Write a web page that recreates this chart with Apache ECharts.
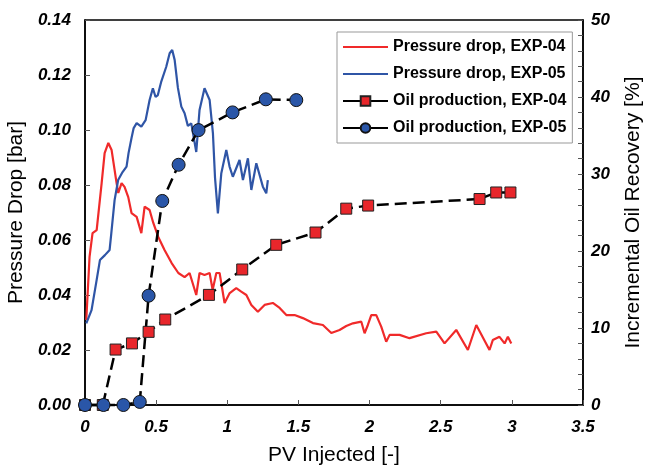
<!DOCTYPE html>
<html>
<head>
<meta charset="utf-8">
<script src="https://cdn.jsdelivr.net/npm/echarts@6/dist/echarts.min.js"></script>
<style>
html,body{margin:0;padding:0;background:#fff;}
#chart{width:651px;height:468px;}
</style>
</head>
<body>
<div id="chart"></div>
<script>
// PV injected vs pressure drop, EXP-04
const pdExp04 = [
[0.009,0.0309],[0.032,0.0539],[0.053,0.0625],[0.082,0.0636],[0.117,0.0807],[0.138,0.0916],[0.164,0.0953],
[0.187,0.0927],[0.208,0.0855],[0.222,0.0807],[0.234,0.0771],[0.257,0.0807],[0.278,0.0793],[0.304,0.0756],
[0.327,0.0698],[0.363,0.0684],[0.396,0.0625],[0.419,0.0721],[0.454,0.0709],[0.480,0.0662],[0.515,0.0611],
[0.559,0.0564],[0.609,0.0516],[0.656,0.0480],[0.700,0.0465],[0.735,0.0480],[0.782,0.0400],[0.805,0.0480],
[0.840,0.0473],[0.876,0.0480],[0.897,0.0418],[0.923,0.0480],[0.946,0.0480],[0.981,0.0371],[1.017,0.0407],
[1.063,0.0425],[1.098,0.0412],[1.134,0.0400],[1.169,0.0364],[1.215,0.0339],[1.262,0.0364],[1.320,0.0371],
[1.368,0.0353],[1.415,0.0327],[1.473,0.0327],[1.531,0.0316],[1.602,0.0298],[1.672,0.0291],[1.731,0.0262],
[1.789,0.0273],[1.836,0.0287],[1.883,0.0297],[1.942,0.0303],[1.965,0.0261],[1.988,0.0291],[2.012,0.0327],
[2.047,0.0327],[2.082,0.0285],[2.117,0.0230],[2.141,0.0255],[2.211,0.0255],[2.281,0.0243],[2.398,0.0261],
[2.469,0.0267],[2.527,0.0224],[2.609,0.0273],[2.691,0.0200],[2.750,0.0291],[2.843,0.0200],[2.866,0.0236],
[2.913,0.0248],[2.949,0.0224],[2.972,0.0248],[2.996,0.0224]
];
// PV injected vs pressure drop, EXP-05
const pdExp05 = [
[0.009,0.0297],[0.046,0.0345],[0.082,0.0455],[0.105,0.0527],[0.140,0.0545],[0.173,0.0564],[0.185,0.0625],
[0.208,0.0745],[0.233,0.0818],[0.264,0.0847],[0.292,0.0867],[0.306,0.0916],[0.327,0.0971],[0.342,0.1007],
[0.363,0.1025],[0.396,0.1012],[0.426,0.1036],[0.454,0.1109],[0.477,0.1152],[0.496,0.1120],[0.512,0.1127],
[0.536,0.1176],[0.571,0.1230],[0.595,0.1279],[0.613,0.1291],[0.630,0.1255],[0.653,0.1153],[0.677,0.1085],
[0.700,0.1061],[0.723,0.1015],[0.747,0.1024],[0.782,0.0920],[0.805,0.1073],[0.840,0.1152],[0.876,0.1109],
[0.899,0.0989],[0.914,0.0825],[0.934,0.0697],[0.958,0.0843],[0.993,0.0927],[1.016,0.0867],[1.039,0.0830],
[1.086,0.0891],[1.110,0.0818],[1.145,0.0897],[1.169,0.0782],[1.204,0.0879],[1.250,0.0794],[1.274,0.0770],
[1.285,0.0818]
];
// PV injected vs incremental oil recovery [%], EXP-04
const oilExp04 = [
[0,0],[0.125,0],[0.215,7.2],[0.33,8.0],[0.447,9.5],[0.564,11.1],[0.871,14.3],[1.105,17.6],[1.344,20.8],
[1.62,22.4],[1.836,25.5],[1.99,25.9],[2.773,26.75],[2.89,27.6],[2.99,27.6]
];
// PV injected vs incremental oil recovery [%], EXP-05
const oilExp05 = [
[0,0],[0.13,0],[0.27,0],[0.385,0.4],[0.447,14.2],[0.543,26.5],[0.658,31.2],[0.798,35.7],[1.037,38.0],
[1.271,39.7],[1.485,39.6]
];
const seriesNames = ['Pressure drop, EXP-04','Pressure drop, EXP-05','Oil production, EXP-04','Oil production, EXP-05'];

const tickFont = {fontFamily:'Liberation Sans, Arial, sans-serif', fontWeight:'bold', fontStyle:'italic', fontSize:17, color:'#000'};
const nameFont = {fontFamily:'Liberation Sans, Arial, sans-serif', fontSize:21, color:'#000'};
const lineIcon = 'path://M0,0H45V2H0Z';

const chart = echarts.init(document.getElementById('chart'), null, {renderer:'canvas'});
chart.setOption({
  animation:false,
  backgroundColor:'#fff',
  grid:{left:85, right:68, top:20, bottom:63, outerBoundsMode:'none', containLabel:false,
        show:true, borderColor:'#000', borderWidth:1.5, backgroundColor:'transparent'},
  legend:{
    orient:'vertical', left:337, top:32,
    padding:[6,6,6,5], itemWidth:45, itemHeight:12, itemGap:9,
    backgroundColor:'#fff', borderColor:'#999', borderWidth:1, borderRadius:0,
    textStyle:{fontFamily:'Liberation Sans, Arial, sans-serif', fontWeight:'bold', fontSize:16, color:'#000', lineHeight:18},
    data:[
      {name:seriesNames[0], icon:lineIcon, itemStyle:{color:'#f02a2a'}},
      {name:seriesNames[1], icon:lineIcon, itemStyle:{color:'#2f55a6'}},
      {name:seriesNames[2], lineStyle:{type:'solid', width:2}},
      {name:seriesNames[3], lineStyle:{type:'solid', width:2}}
    ]
  },
  xAxis:{
    type:'value', min:0, max:3.5, interval:0.5,
    name:'PV Injected [-]', nameLocation:'middle', nameGap:40, nameTextStyle:nameFont,
    axisLine:{lineStyle:{color:'#000', width:1.5}},
    axisTick:{inside:true, length:5, lineStyle:{color:'#555'}},
    axisLabel:Object.assign({margin:14}, tickFont),
    splitLine:{show:false}
  },
  yAxis:[{
    type:'value', min:0, max:0.14, interval:0.02, position:'left',
    name:'Pressure Drop [bar]', nameLocation:'middle', nameGap:51, nameTextStyle:nameFont,
    axisLine:{show:true, lineStyle:{color:'#000', width:1.5}},
    axisTick:{show:true, inside:true, length:5, lineStyle:{color:'#555'}},
    axisLabel:Object.assign({margin:14, formatter:v=>v.toFixed(2)}, tickFont),
    splitLine:{show:false}
  },{
    type:'value', min:0, max:50, interval:10, position:'right',
    name:'Incremental Oil Recovery [%]', nameLocation:'middle', nameGap:40, nameTextStyle:nameFont,
    axisLine:{show:true, lineStyle:{color:'#000', width:1.5}},
    axisTick:{show:true, inside:true, length:5, lineStyle:{color:'#555'}},
    minorTick:{show:true, splitNumber:5, length:5, lineStyle:{color:'#555'}},
    axisLabel:Object.assign({margin:8}, tickFont),
    splitLine:{show:false}
  }],
  series:[{
    name:seriesNames[0], type:'line', yAxisIndex:0, data:pdExp04, symbol:'none',
    lineStyle:{color:'#f02a2a', width:2.2}, itemStyle:{color:'#f02a2a'}
  },{
    name:seriesNames[1], type:'line', yAxisIndex:0, data:pdExp05, symbol:'none',
    lineStyle:{color:'#2f55a6', width:2.2}, itemStyle:{color:'#2f55a6'}
  },{
    name:seriesNames[2], type:'line', yAxisIndex:1, data:oilExp04, clip:false,
    symbol:'rect', symbolSize:11,
    lineStyle:{color:'#000', width:2.5, type:[12,6]},
    itemStyle:{color:'#e8262b', borderColor:'#222', borderWidth:1}
  },{
    name:seriesNames[3], type:'line', yAxisIndex:1, data:oilExp05, clip:false,
    symbol:'circle', symbolSize:13,
    lineStyle:{color:'#000', width:2.5, type:[12,6]},
    itemStyle:{color:'#2a56a8', borderColor:'#111', borderWidth:1}
  }]
});
</script>
</body>
</html>
